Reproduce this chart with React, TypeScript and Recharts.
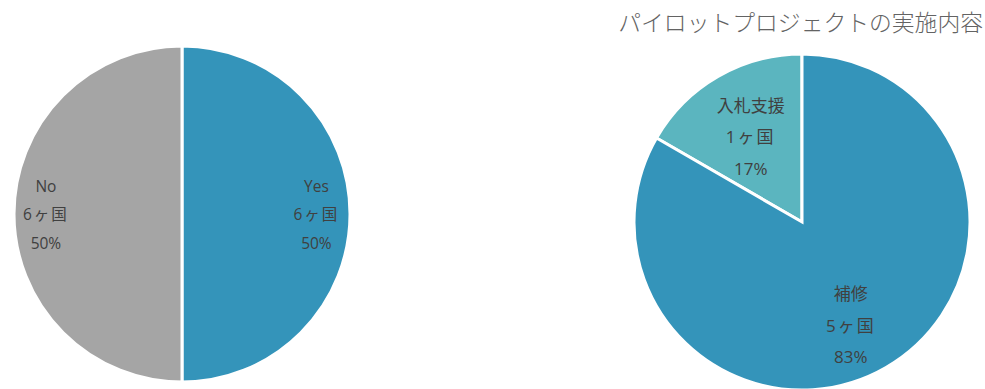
import React from "react";
import { PieChart, Pie, Cell } from "recharts";

const leftNames = ["Yes", "No"];
const leftCounts = [6, 6];
const leftPercents = ["50%", "50%"];
const leftColors = ["#3494BA", "#A5A5A5"];

const rightNames = ["入札支援", "補修"];
const rightCounts = [1, 5];
const rightPercents = ["17%", "83%"];
const rightColors = ["#5BB5BF", "#3494BA"];

const titleText = "パイロットプロジェクトの実施内容";

const leftData = leftNames.map((n, i) => ({ name: n, value: leftCounts[i], pct: leftPercents[i] }));
const rightData = rightNames.map((n, i) => ({ name: n, value: rightCounts[i], pct: rightPercents[i] }));

const RAD = Math.PI / 180;
const FONT = "'Open Sans', 'Noto Sans CJK JP', sans-serif";

const makeLabel = (factors: number[], deltas: number[], fontSize: number, gap: number) => (props: any) => {
  const { cx, cy, midAngle, outerRadius, index, payload } = props;
  const a = (midAngle + deltas[index]) * RAD;
  const r = outerRadius * factors[index];
  const x = cx + r * Math.cos(a);
  const y = cy - r * Math.sin(a);
  const p = payload && payload.payload ? payload.payload : payload;
  return (
    <g>
      <text x={x} y={y - gap} textAnchor="middle" dominantBaseline="central" fill="#404040" fontSize={fontSize} fontFamily={FONT}>
        {p.name}
      </text>
      <text x={x} y={y} textAnchor="middle" dominantBaseline="central" fill="#404040" fontSize={fontSize} fontFamily={FONT} letterSpacing={2}>
        {`${p.value}ヶ国`}
      </text>
      <text x={x} y={y + gap} textAnchor="middle" dominantBaseline="central" fill="#404040" fontSize={fontSize} fontFamily={FONT}>
        {p.pct}
      </text>
    </g>
  );
};

export default function App() {
  return (
    <div style={{ position: "absolute", left: 0, top: 0, width: 985, height: 389, background: "#fff", overflow: "hidden" }}>
      <div style={{ position: "absolute", left: 0, top: 0 }}>
        <PieChart width={985} height={389} margin={{ top: 0, right: 0, bottom: 0, left: 0 }}>
          <text x={983} y={21} textAnchor="end" dominantBaseline="central" fill="#636363" fontSize={22.8} fontFamily="'Noto Sans CJK JP', sans-serif" fontWeight={300}>
            {titleText}
          </text>
          <Pie
            data={leftData}
            dataKey="value"
            cx={182}
            cy={214}
            outerRadius={168}
            startAngle={90}
            endAngle={-270}
            stroke="#ffffff"
            strokeWidth={3}
            isAnimationActive={false}
            labelLine={false}
            label={makeLabel([0.8, 0.81], [0, 0], 15.5, 28.5)}
          >
            {leftData.map((d, i) => (
              <Cell key={d.name} fill={leftColors[i]} />
            ))}
          </Pie>
          <Pie
            data={rightData}
            dataKey="value"
            cx={802}
            cy={222}
            outerRadius={168}
            startAngle={90}
            endAngle={450}
            stroke="#ffffff"
            strokeWidth={3}
            isAnimationActive={false}
            labelLine={false}
            label={makeLabel([0.593, 0.68], [1, -4.7], 17, 31.5)}
          >
            {rightData.map((d, i) => (
              <Cell key={d.name} fill={rightColors[i]} />
            ))}
          </Pie>
        </PieChart>
      </div>
    </div>
  );
}
